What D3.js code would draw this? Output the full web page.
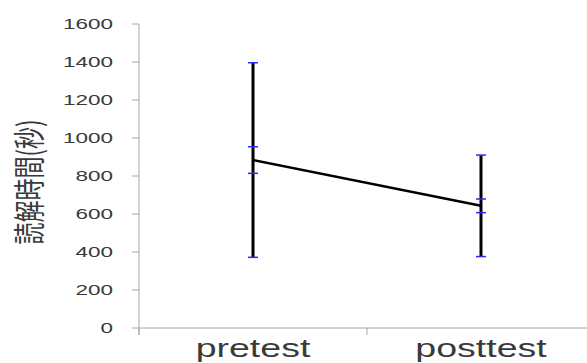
<!DOCTYPE html>
<html>
<head>
<meta charset="utf-8">
<script src="https://cdn.jsdelivr.net/npm/d3@7"></script>
<style>
  body { margin: 0; background: #fff; }
  text { font-family: "Liberation Sans", Arial, sans-serif; fill: #3a3a3a; }
</style>
</head>
<body>
<script>
const width = 587;
const height = 363;

const categories = ["pretest", "posttest"];
const means = [884, 643];
const sds = [512, 267];
const ses = [70, 36];
const yTicks = [0, 200, 400, 600, 800, 1000, 1200, 1400, 1600];

const plotLeft = 139, plotRight = 595, plotTop = 24, plotBottom = 328;
const stretch = 1.5;

const svg = d3.select("body").append("svg")
  .attr("width", width)
  .attr("height", height);

const x = d3.scaleBand().domain(categories).range([plotLeft, plotRight]).padding(0);
const y = d3.scaleLinear().domain([0, 1600]).range([plotBottom, plotTop]);

const axisColor = "#a6a6a6";

// y axis
svg.append("line")
  .attr("x1", plotLeft).attr("x2", plotLeft)
  .attr("y1", y(1600)).attr("y2", plotBottom + 7)
  .attr("stroke", axisColor).attr("stroke-width", 1);

svg.selectAll(".ytick").data(yTicks).enter().append("line")
  .attr("x1", plotLeft - 7).attr("x2", plotLeft)
  .attr("y1", d => y(d)).attr("y2", d => y(d))
  .attr("stroke", axisColor);

svg.selectAll(".ylab").data(yTicks).enter().append("text")
  .attr("transform", d => `translate(113,${y(d)}) scale(${stretch},1)`)
  .attr("text-anchor", "end")
  .attr("dy", "0.33em")
  .attr("font-size", 15)
  .text(d => d);

// x axis
svg.append("line")
  .attr("x1", plotLeft).attr("x2", width)
  .attr("y1", plotBottom).attr("y2", plotBottom)
  .attr("stroke", axisColor);

svg.selectAll(".xtick").data([plotLeft, (plotLeft + plotRight) / 2, plotRight]).enter().append("line")
  .attr("x1", d => d).attr("x2", d => d)
  .attr("y1", plotBottom).attr("y2", plotBottom + 7)
  .attr("stroke", axisColor);

svg.selectAll(".xlab").data(categories).enter().append("text")
  .attr("transform", d => `translate(${x(d) + x.bandwidth() / 2},357) scale(${stretch},1)`)
  .attr("text-anchor", "middle")
  .attr("font-size", 25)
  .text(d => d);

// y title
svg.append("text")
  .attr("transform", `translate(41,182) scale(1.45,1) rotate(-90)`)
  .attr("text-anchor", "middle")
  .attr("font-size", 22)
  .style("font-family", "'Noto Sans CJK JP', sans-serif")
  .text("読解時間(秒)");

const cx = d => x(d) + x.bandwidth() / 2;

// error bars
const g = svg.append("g");
categories.forEach((c, i) => {
  g.append("line")
    .attr("x1", cx(c)).attr("x2", cx(c))
    .attr("y1", y(means[i] + sds[i])).attr("y2", y(means[i] - sds[i]))
    .attr("stroke", "#000").attr("stroke-width", 3);
  const caps = [means[i] + sds[i], means[i] + ses[i], means[i] - ses[i], means[i] - sds[i]];
  g.selectAll(null).data(caps).enter().append("line")
    .attr("x1", cx(c) - 5).attr("x2", cx(c) + 5)
    .attr("y1", d => y(d)).attr("y2", d => y(d))
    .attr("stroke", "#2a2aff").attr("stroke-width", 1.5);
});

// mean line
const line = d3.line().x((d, i) => cx(categories[i])).y(d => y(d));
svg.append("path")
  .datum(means)
  .attr("d", line)
  .attr("fill", "none")
  .attr("stroke", "#000")
  .attr("stroke-width", 2.5);
</script>
</body>
</html>
